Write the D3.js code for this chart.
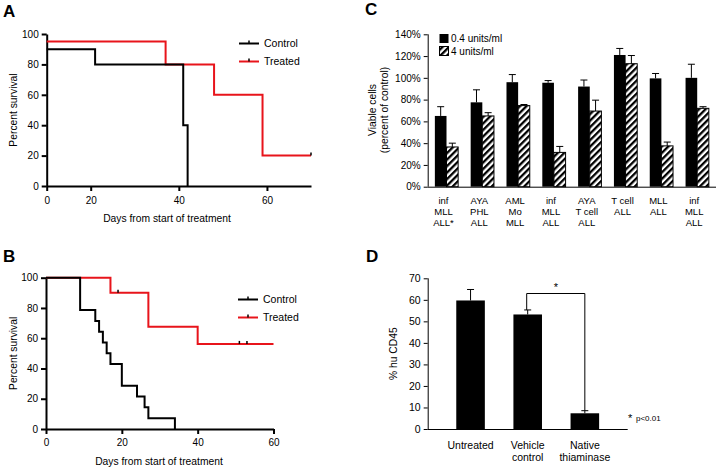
<!DOCTYPE html>
<html>
<head>
<meta charset="utf-8">
<script src="https://cdn.jsdelivr.net/npm/d3@7"></script>
<style>
  body { margin: 0; background: #fff; }
  svg { font-family: "Liberation Sans", Arial, sans-serif; }
</style>
</head>
<body>
<div id="chart"></div>
<script>
// panel A survival data [day, percent]
var controlA = [[0, 90], [21, 80], [41, 40], [42, 0]];
var treatedA = [[0, 95], [37, 80], [48, 60], [59, 20], [70, 20]];
var censorA = [[70, 20]];

// panel B survival data
var controlB = [[0, 100], [9, 78.6], [13, 71.4], [14, 64.3], [15, 57.1], [16, 50], [17, 42.9],
  [20, 28.6], [24, 21.4], [26, 14.3], [27, 7.1], [34, 0]];
var treatedB = [[0, 100], [17, 90], [27, 67.5], [40, 56.25], [60, 56.25]];
var censorB = [[19, 90], [51, 56.25], [53, 56.25]];

// panel C
var cellLines = [["inf", "MLL", "ALL*"], ["AYA", "PHL", "ALL"], ["AML", "Mo", "MLL"], ["inf", "MLL", "ALL"],
  ["AYA", "T cell", "ALL"], ["T cell", "ALL"], ["MLL", "ALL"], ["inf", "MLL", "ALL"]];
var lowDose = [65, 77.5, 96, 95.5, 92, 121, 99.5, 100];
var lowDoseErr = [8.5, 11.5, 7, 2, 6, 6, 4.5, 12.5];
var highDose = [36.5, 65, 74.5, 31.5, 69.5, 113, 37.5, 72];
var highDoseErr = [3.5, 3, 1, 5.5, 10, 7.5, 3.5, 1.5];
var cTicks = [0, 20, 40, 60, 80, 100, 120, 140];

// panel D
var groupsD = [["Untreated"], ["Vehicle", "control"], ["Native", "thiaminase"]];
var cd45 = [59.7, 53.2, 7.3];
var cd45Err = [5.1, 2.1, 1.2];

var W = 722, H = 470;
var svg = d3.select("#chart").append("svg").attr("width", W).attr("height", H);

var defs = svg.append("defs");
var pat = defs.append("pattern")
  .attr("id", "hatch")
  .attr("patternUnits", "userSpaceOnUse")
  .attr("width", 4.6).attr("height", 4.6)
  .attr("patternTransform", "rotate(45)");
pat.append("rect").attr("width", 4.6).attr("height", 4.6).attr("fill", "#fff");
pat.append("rect").attr("width", 2.3).attr("height", 4.6).attr("fill", "#000");

function panelLabel(t, x, y) {
  svg.append("text").attr("x", x).attr("y", y).text(t)
    .attr("font-size", 17).attr("font-weight", "bold");
}

function styleAxis(g, sw) {
  g.selectAll("path").attr("stroke", "#000").attr("stroke-width", sw);
  g.selectAll("line").attr("stroke", "#000").attr("stroke-width", sw);
  g.selectAll("text").attr("fill", "#000");
}

// ---- survival panels ----
function survival(opt) {
  var x = opt.x, y = opt.y;
  var line = d3.line()
    .x(function(d) { return x(d[0]); })
    .y(function(d) { return y(d[1]); })
    .curve(d3.curveStepAfter);

  var gx = svg.append("g").attr("transform", "translate(0," + y.range()[0] + ")")
    .call(d3.axisBottom(x).tickValues([0, 20, 40, 60]).tickSize(5).tickSizeOuter(0).tickPadding(opt.xPad));
  gx.attr("font-size", 10);
  styleAxis(gx, 2);
  var gy = svg.append("g").attr("transform", "translate(" + x.range()[0] + ",0)")
    .call(d3.axisLeft(y).tickValues([0, 20, 40, 60, 80, 100]).tickSize(5).tickSizeOuter(0).tickPadding(3));
  gy.attr("font-size", 10);
  styleAxis(gy, 2);

  svg.append("path").datum(opt.treated).attr("d", line)
    .attr("fill", "none").attr("stroke", "#e8141b").attr("stroke-width", 2);
  svg.append("path").datum(opt.control).attr("d", line)
    .attr("fill", "none").attr("stroke", "#000").attr("stroke-width", 2);
  svg.selectAll(null).data(opt.censor).enter().append("line")
    .attr("x1", function(d) { return x(d[0]); })
    .attr("x2", function(d) { return x(d[0]); })
    .attr("y1", function(d) { return y(d[1]) - 3; })
    .attr("y2", function(d) { return y(d[1]); })
    .attr("stroke", "#000").attr("stroke-width", 1.5);

  svg.append("text").attr("x", opt.titleX).attr("y", y.range()[0] + 36)
    .attr("text-anchor", "middle").attr("font-size", 10.3).text("Days from start of treatment");
  var midY = (y.range()[0] + y.range()[1]) / 2;
  svg.append("text").attr("transform", "translate(17," + midY + ") rotate(-90)")
    .attr("text-anchor", "middle").attr("font-size", 10.3).text("Percent survival");

  var leg = [["Control", "#000"], ["Treated", "#e8141b"]];
  leg.forEach(function(l, i) {
    var ly = opt.legY + i * 18;
    svg.append("line").attr("x1", opt.legX).attr("x2", opt.legX + 20)
      .attr("y1", ly).attr("y2", ly).attr("stroke", l[1]).attr("stroke-width", 2);
    svg.append("line").attr("x1", opt.legX + 10).attr("x2", opt.legX + 10)
      .attr("y1", ly - 3).attr("y2", ly).attr("stroke", "#000").attr("stroke-width", 1.5);
    svg.append("text").attr("x", opt.legX + 25).attr("y", ly + 3.5)
      .attr("font-size", 10.5).text(l[0]);
  });
}

survival({
  x: d3.scaleLinear().domain([0, 20, 70]).range([46.7, 90.7, 311]),
  y: d3.scaleLinear().domain([0, 100]).range([186, 34]),
  control: controlA, treated: treatedA, censor: censorA,
  legX: 239, legY: 43.5, titleX: 167, xPad: 6
});
survival({
  x: d3.scaleLinear().domain([0, 60]).range([46, 273.5]),
  y: d3.scaleLinear().domain([0, 100]).range([429, 277.7]),
  control: controlB, treated: treatedB, censor: censorB,
  legX: 238, legY: 299.5, titleX: 159, xPad: 5
});

panelLabel("A", 3, 17);
panelLabel("B", 3, 262);
panelLabel("C", 365, 15);
panelLabel("D", 366, 262);

// ---- panel C ----
var xC = d3.scaleBand().domain(d3.range(cellLines.length)).range([427.7, 716]).paddingInner(0.35).paddingOuter(0.2);
var yC = d3.scaleLinear().domain([0, 140]).range([186.7, 34.3]);

var gyC = svg.append("g").attr("transform", "translate(427.7,0)")
  .call(d3.axisLeft(yC).tickValues(cTicks).tickSize(4).tickSizeOuter(0).tickPadding(3)
    .tickFormat(function(d) { return d + "%"; }));
gyC.attr("font-size", 10);
styleAxis(gyC, 1);
gyC.select("path").attr("d", "M0.5," + yC(140) + "V" + yC(0));

svg.append("line").attr("x1", 427.7).attr("x2", 716)
  .attr("y1", yC(0) + 0.5).attr("y2", yC(0) + 0.5).attr("stroke", "#000").attr("stroke-width", 1);

var bw = xC.bandwidth() / 2;
var gC = svg.append("g");
gC.selectAll(".lo").data(lowDose).enter().append("rect")
  .attr("x", function(d, i) { return xC(i); })
  .attr("y", function(d) { return yC(d); })
  .attr("width", bw).attr("height", function(d) { return yC(0) - yC(d); })
  .attr("fill", "#000");
gC.selectAll(".hi").data(highDose).enter().append("rect")
  .attr("x", function(d, i) { return xC(i) + bw; })
  .attr("y", function(d) { return yC(d); })
  .attr("width", bw).attr("height", function(d) { return yC(0) - yC(d); })
  .attr("fill", "url(#hatch)").attr("stroke", "#000").attr("stroke-width", 1);

function errBars(g, vals, errs, xf, ys) {
  vals.forEach(function(v, i) {
    var cx = xf(i);
    g.append("line").attr("x1", cx).attr("x2", cx).attr("y1", ys(v)).attr("y2", ys(v + errs[i]))
      .attr("stroke", "#000").attr("stroke-width", 1);
    g.append("line").attr("x1", cx - 3.5).attr("x2", cx + 3.5).attr("y1", ys(v + errs[i])).attr("y2", ys(v + errs[i]))
      .attr("stroke", "#000").attr("stroke-width", 1);
  });
}
errBars(gC, lowDose, lowDoseErr, function(i) { return xC(i) + bw / 2; }, yC);
errBars(gC, highDose, highDoseErr, function(i) { return xC(i) + bw * 1.5; }, yC);

cellLines.forEach(function(lines, i) {
  var t = svg.append("text").attr("text-anchor", "middle").attr("font-size", 9.5);
  lines.forEach(function(s, j) {
    t.append("tspan").attr("x", xC(i) + bw - 3).attr("y", 204 + j * 11).text(s);
  });
});

var yTitleC = svg.append("text").attr("transform", "translate(376,110) rotate(-90)")
  .attr("text-anchor", "middle").attr("font-size", 10.3);
yTitleC.append("tspan").attr("x", 0).attr("dy", 0).text("Viable cells");
yTitleC.append("tspan").attr("x", 0).attr("dy", 12).text("(percent of control)");

svg.append("rect").attr("x", 439.5).attr("y", 34).attr("width", 9).attr("height", 9).attr("fill", "#000");
svg.append("rect").attr("x", 439.5).attr("y", 46.5).attr("width", 9).attr("height", 9)
  .attr("fill", "url(#hatch)").attr("stroke", "#000").attr("stroke-width", 1);
svg.append("text").attr("x", 451).attr("y", 42).attr("font-size", 10).text("0.4 units/ml");
svg.append("text").attr("x", 451).attr("y", 55).attr("font-size", 10).text("4 units/ml");

// ---- panel D ----
var xD = d3.scaleBand().domain(d3.range(groupsD.length)).range([427.7, 627.7]).padding(0.5);
var yD = d3.scaleLinear().domain([0, 70]).range([429, 278.3]);

var gyD = svg.append("g").attr("transform", "translate(427.7,0)")
  .call(d3.axisLeft(yD).tickValues(d3.range(0, 71, 10)).tickSize(4).tickSizeOuter(0).tickPadding(3));
gyD.attr("font-size", 10.5);
styleAxis(gyD, 1);
gyD.select("path").attr("d", "M0.5," + yD(70) + "V" + yD(0));
svg.append("line").attr("x1", 427.7).attr("x2", 627.7)
  .attr("y1", yD(0) + 0.5).attr("y2", yD(0) + 0.5).attr("stroke", "#000").attr("stroke-width", 1);

var gD = svg.append("g");
gD.selectAll("rect").data(cd45).enter().append("rect")
  .attr("x", function(d, i) { return xD(i); })
  .attr("y", function(d) { return yD(d); })
  .attr("width", xD.bandwidth()).attr("height", function(d) { return yD(0) - yD(d); })
  .attr("fill", "#000");
errBars(gD, cd45, cd45Err, function(i) { return xD(i) + xD.bandwidth() / 2; }, yD);

groupsD.forEach(function(lines, i) {
  var t = svg.append("text").attr("text-anchor", "middle").attr("font-size", 10.5);
  lines.forEach(function(s, j) {
    t.append("tspan").attr("x", xD(i) + xD.bandwidth() / 2).attr("y", 448.5 + j * 12.7).text(s);
  });
});

// significance bracket
var bx1 = xD(1) + xD.bandwidth() / 2 - 1, bx2 = xD(2) + xD.bandwidth() / 2, by = 293.5;
svg.append("path")
  .attr("d", "M" + bx1 + "," + yD(cd45[1] + cd45Err[1]) + "V" + by + "H" + bx2 + "V" + yD(cd45[2] + cd45Err[2]))
  .attr("fill", "none").attr("stroke", "#000").attr("stroke-width", 1);
svg.append("text").attr("x", (bx1 + bx2) / 2).attr("y", 291).attr("text-anchor", "middle")
  .attr("font-size", 11).text("*");
svg.append("text").attr("x", 628).attr("y", 422).attr("font-size", 11).text("*");
svg.append("text").attr("x", 636).attr("y", 421).attr("font-size", 8).text("p<0.01");

svg.append("text").attr("transform", "translate(397," + ((yD(0) + yD(70)) / 2) + ") rotate(-90)")
  .attr("text-anchor", "middle").attr("font-size", 10.3).text("% hu CD45");
</script>
</body>
</html>
